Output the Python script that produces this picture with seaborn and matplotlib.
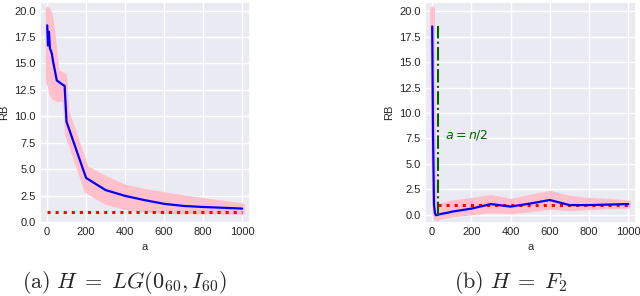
import numpy as np
import pandas as pd
import matplotlib
matplotlib.use("Agg")
import matplotlib.pyplot as plt
import seaborn as sns

# values
a_vals = [1, 5, 10, 15, 20, 25, 30, 50, 80, 90, 100, 200, 300, 400, 500, 600, 700, 800, 900, 1000]

rb_lg = [18.6, 16.7, 18.0, 16.4, 16.2, 15.9, 15.3, 13.4, 13.0, 12.9, 9.5, 4.2, 3.05, 2.5, 2.1,
         1.75, 1.55, 1.45, 1.38, 1.3]
lo_lg = [13.3, 13.2, 13.0, 12.6, 12.2, 12.0, 11.8, 11.6, 11.6, 11.5, 8.4, 3.0, 1.9, 1.4, 1.2,
         1.05, 1.0, 1.0, 0.98, 0.95]
hi_lg = [20.2, 20.1, 20.0, 19.6, 19.2, 18.6, 18.0, 14.3, 14.0, 13.9, 10.6, 5.2, 4.2, 3.4, 3.0,
         2.7, 2.4, 2.15, 1.9, 1.65]

rb_f2 = [18.5, 8.0, 1.0, 0.15, -0.05, -0.03, 0.0, 0.1, 0.2, 0.25, 0.3, 0.6, 1.05, 0.8, 1.1,
         1.45, 0.95, 0.95, 1.0, 1.05]
lo_f2 = [16.5, 6.0, 0.2, -0.3, -0.4, -0.35, -0.3, -0.2, -0.1, -0.05, 0.0, 0.2, 0.4, 0.3, 0.5,
         0.75, 0.6, 0.7, 0.8, 0.85]
hi_f2 = [20.3, 10.0, 1.8, 0.8, 0.6, 0.6, 0.7, 1.0, 1.15, 1.2, 1.25, 1.5, 1.8, 1.4, 1.8,
         2.2, 1.7, 1.5, 1.4, 1.25]

n_half = 30
ref_level = 1.0
xticks = [0, 200, 400, 600, 800, 1000]
yticks = [0.0, 2.5, 5.0, 7.5, 10.0, 12.5, 15.0, 17.5, 20.0]

sns.set_theme(style="darkgrid")
plt.rcParams["font.family"] = ["Liberation Sans", "DejaVu Sans"]

fig = plt.figure(figsize=(6.4, 2.96), dpi=100)
ax1 = fig.add_axes([0.0625, 0.247, 0.328, 0.746])
ax2 = fig.add_axes([0.664, 0.247, 0.330, 0.746])


def draw_panel(ax, rb, lo, hi, ref_start, ylab_x):
    df = pd.DataFrame({"a": a_vals, "RB": rb})
    ax.fill_between(a_vals, lo, hi, color="pink", edgecolor="pink", linewidth=3, zorder=1)
    ref_x = [x for x in a_vals if x >= ref_start]
    ax.plot(ref_x, [ref_level] * len(ref_x), color="red", linestyle=":", linewidth=2.2, zorder=2)
    sns.lineplot(data=df, x="a", y="RB", ax=ax, color="blue", linewidth=1.6, zorder=3)
    ax.set_xticks(xticks)
    ax.set_yticks(yticks)
    ax.set_xlim(-36, 1040)
    ax.tick_params(labelsize=8, length=0, pad=3)
    ax.set_xlabel("a", fontsize=8)
    ax.set_ylabel("RB", fontsize=8)
    ax.xaxis.set_label_coords(0.5, -0.085)
    ax.yaxis.set_label_coords(ylab_x, 0.5)


draw_panel(ax1, rb_lg, lo_lg, hi_lg, 0, -0.148)
ax1.set_ylim(-0.05, 20.8)

draw_panel(ax2, rb_f2, lo_f2, hi_f2, n_half, -0.147)
ax2.set_ylim(-0.8, 20.9)
ax2.vlines(n_half, 0, 18.5, color="darkgreen", linestyles="-.", linewidth=1.5, zorder=4)
ax2.text(66, 7.8, r"$a = n/2$", color="darkgreen", fontsize=9, va="center",
         math_fontfamily="dejavusans")

fig.text(0.195, 0.047, r"$\mathrm{(a)}\ H \;=\; LG(\mathbf{0}_{60}, I_{60})$", fontsize=16,
         ha="center", va="center", math_fontfamily="cm")
fig.text(0.798, 0.047, r"$\mathrm{(b)}\ H \;=\; F_2$", fontsize=16,
         ha="center", va="center", math_fontfamily="cm")

fig.savefig("out.png", dpi=100)
